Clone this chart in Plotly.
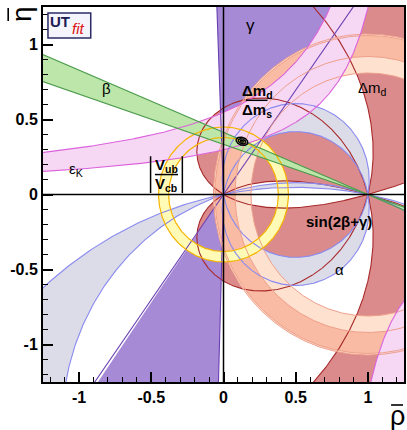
import numpy as np
import plotly.graph_objects as go

# ---------------- constraint values ----------------
AXIS_RANGE = [-1.25, 1.25]
TICK_VALUES = [-1, -0.5, 0, 0.5, 1]
TICK_LABELS = ["-1", "-0.5", "0", "0.5", "1"]

VUB_RADII = [0.38, 0.45]             # |Vub/Vcb| ring around (0,0)
DMS_LIGHT_RADII = [0.81, 1.07]       # Δmd/Δms ring around (1,0), 95%
DMS_DARK_RADII = [0.92, 1.06]        # Δmd/Δms ring around (1,0), 68%
EPSK_RHO0 = 1.315                    # εK hyperbola  η(ρ0-ρ)=k
EPSK_K = [0.392, 0.719]
EPSK_LOW_RHO0 = 0.72                 # εK lower-right branch
EPSK_LOW_K = 0.375
BETA_DEG = [18.5, 22.5]              # β wedge from (1,0)
GAMMA_UP_DEG = [54.3, 92.1]          # γ wedge from (0,0)
GAMMA_DOWN_DEG = [234.5, 268.4]
ALPHA_MAIN_DEG = [79.0, 100.0]       # apex angle band (both halves)
ALPHA_AMBIG_UP_DEG = [162.0, 169.0]  # ambiguous α solution, upper half
ALPHA_AMBIG_DOWN_DEG = [11.0, 18.0]  # ambiguous α solution, lower half
SIN2BG_MIN = 0.5                     # |sin(2β+γ)| lower bound
FIT_CENTER = [0.128, 0.355]
FIT_SEMI_AXES = [[0.042, 0.026], [0.027, 0.016], [0.012, 0.007]]
FIT_TILT_DEG = -18

# ---------------- colours ----------------
RED_FILL, RED_LINE = "#db8b8b", "#a8292b"
GREY_FILL, GREY_LINE = "#dcdce9", "#8a8af0"
PURPLE_FILL, PURPLE_LINE = "#a68ad6", "#6b3fb2"
PEACH_LIGHT, PEACH_DARK, PEACH_LINE = "#fee2cf", "#f9bba3", "#ee9f8b"
YELLOW_FILL, YELLOW_LINE = "#fffbb6", "#f5b400"
PINK_FILL, PINK_LINE = "#f6d8f4", "#dc62dc"
GREEN_FILL, GREEN_LINE = "#bde6aa", "#4b9b4b"

D = np.pi / 180.0


def circle(cx, cy, r, a0=0.0, a1=360.0, n=721):
    t = np.linspace(a0, a1, n) * D
    return cx + r * np.cos(t), cy + r * np.sin(t)


def annulus(cx, cy, r1, r2):
    xo, yo = circle(cx, cy, r2, 0, 360)
    xi, yi = circle(cx, cy, r1, 360, 0)
    return np.r_[xo, xi], np.r_[yo, yi]


def wedge(cx, cy, a0, a1, R=8.0):
    t = np.linspace(a0, a1, 200) * D
    return np.r_[cx, cx + R * np.cos(t), cx], np.r_[cy, cy + R * np.sin(t), cy]


def ray(cx, cy, a, R=8.0):
    return [cx, cx + R * np.cos(a * D)], [cy, cy + R * np.sin(a * D)]


def hyper_edge(k, rho0, etamax=6.0, n=600):
    eta = np.geomspace(k / (rho0 + 6.0), etamax, n)
    return rho0 - k / eta, eta


def theta_curve(theta, b0, b1, n=800):
    # points where 2β+γ = theta (law of sines parametrisation)
    b = np.linspace(b0, b1, n)
    g = theta - 2 * b
    r = np.sin(b * D) / np.sin((theta - b) * D)
    return r * np.cos(g * D), r * np.sin(g * D)


def alpha_arc(alpha, n=600):
    g = np.linspace(0, 180 - alpha, n)
    b = 180 - alpha - g
    r = np.sin(b * D) / np.sin(alpha * D)
    return r * np.cos(g * D), r * np.sin(g * D)


fig = go.Figure()


def fill(x, y, color):
    fig.add_trace(go.Scatter(x=x, y=y, mode="lines", fill="toself", fillcolor=color,
                             line=dict(width=0, color=color), hoverinfo="skip"))


def line(x, y, color, w=1.0):
    fig.add_trace(go.Scatter(x=x, y=y, mode="lines", line=dict(width=w, color=color),
                             hoverinfo="skip"))


# ---- sin(2β+γ) regions ----
t1 = np.arcsin(SIN2BG_MIN) / D
t2 = 180 - t1
sin_curves = []
xa1, ya1 = theta_curve(t2, 0, t2 / 2)
xa2, ya2 = theta_curve(t1, t1 / 2, 0)
xb1, yb1 = theta_curve(180 + t1, t1 + 1.0, (180 + t1) / 2)
xb2, yb2 = theta_curve(360 - t1, 180 - t1 / 2, 180 - t1 + 1.0)
xarc, yarc = circle(0, 0, 60, 20, 160, 200)
for s in (1, -1):
    fill(np.r_[xa1, xa2], s * np.r_[ya1, ya2], RED_FILL)
    fill(np.r_[xb1, xb2, xarc], s * np.r_[yb1, yb2, yarc], RED_FILL)
    sin_curves += [(xa1, s * ya1), (xa2, s * ya2), (xb1, s * yb1), (xb2, s * yb2)]

# ---- α regions ----
alpha_curves = []
for s, band in ((1, ALPHA_MAIN_DEG), (-1, ALPHA_MAIN_DEG),
                (1, ALPHA_AMBIG_UP_DEG), (-1, ALPHA_AMBIG_DOWN_DEG)):
    x1, y1 = alpha_arc(band[0])
    x2, y2 = alpha_arc(band[1])
    fill(np.r_[x1, x2[::-1]], s * np.r_[y1, y2[::-1]], GREY_FILL)
    alpha_curves += [(x1, s * y1), (x2, s * y2)]

# ---- γ wedges ----
for g in (GAMMA_UP_DEG, GAMMA_DOWN_DEG):
    x, y = wedge(0, 0, g[0], g[1])
    fill(x, y, PURPLE_FILL)

# ---- Δmd/Δms rings ----
x, y = annulus(1, 0, *DMS_LIGHT_RADII)
fill(x, y, PEACH_LIGHT)
x, y = annulus(1, 0, *DMS_DARK_RADII)
fill(x, y, PEACH_DARK)

# ---- |Vub/Vcb| ring ----
x, y = annulus(0, 0, *VUB_RADII)
fill(x, y, YELLOW_FILL)

# ---- εK band ----
xe1, ye1 = hyper_edge(EPSK_K[0], EPSK_RHO0)
xe2, ye2 = hyper_edge(EPSK_K[1], EPSK_RHO0)
fill(np.r_[xe2, xe1[::-1]], np.r_[ye2, ye1[::-1]], PINK_FILL)
# lower-right branch
eta_low = -np.geomspace(6.0, 0.05, 600)
xl = EPSK_LOW_RHO0 + EPSK_LOW_K / (-eta_low)
fill(np.r_[xl, 10.0, 10.0], np.r_[eta_low, -0.05, -10.0], PINK_FILL)

# ---- β wedge (both sides of (1,0)) ----
x, y = wedge(1, 0, 180 - BETA_DEG[1], 180 - BETA_DEG[0])
fill(x, y, GREEN_FILL)
x, y = wedge(1, 0, -BETA_DEG[1], -BETA_DEG[0])
fill(x, y, GREEN_FILL)

# ---------------- boundary lines on top ----------------
for cx, cy in sin_curves:
    line(cx, cy, RED_LINE, 1.1)
for cx, cy in alpha_curves:
    line(cx, cy, GREY_LINE, 1.1)
for g in GAMMA_UP_DEG + GAMMA_DOWN_DEG:
    x, y = ray(0, 0, g)
    line(x, y, PURPLE_LINE, 1.1)
for r in DMS_LIGHT_RADII + DMS_DARK_RADII:
    x, y = circle(1, 0, r)
    line(x, y, PEACH_LINE, 1.0)
for r in VUB_RADII:
    x, y = circle(0, 0, r)
    line(x, y, YELLOW_LINE, 1.2)
line(xe1, ye1, PINK_LINE, 1.1)
line(xe2, ye2, PINK_LINE, 1.1)
line(xl, eta_low, PINK_LINE, 1.1)
for b in BETA_DEG:
    x, y = ray(1, 0, 180 - b)
    line(x, y, GREEN_LINE, 1.1)
    x, y = ray(1, 0, -b)
    line(x, y, GREEN_LINE, 1.1)

# ---- fit contours ----
tt = np.linspace(0, 2 * np.pi, 200)
ct, st = np.cos(FIT_TILT_DEG * D), np.sin(FIT_TILT_DEG * D)
for a, b in FIT_SEMI_AXES:
    ex, ey = a * np.cos(tt), b * np.sin(tt)
    line(FIT_CENTER[0] + ex * ct - ey * st, FIT_CENTER[1] + ex * st + ey * ct, "black", 1.4)

# ---------------- layout ----------------
W, H = 407, 430
L, R, T, B = 43, 1, 7, 48
PW, PH = W - L - R, H - T - B


def px(xp):
    return (xp - L) / PW


def py(yp):
    return 1 - (yp - T) / PH


tickfont = dict(family="Liberation Sans, Arial", size=16, color="black", weight="bold")
axis_common = dict(range=AXIS_RANGE, showgrid=False, zeroline=False, showline=True,
                   mirror=True, linecolor="black", linewidth=2, ticks="inside",
                   ticklen=10, tickwidth=1.5, tickcolor="black", tickvals=TICK_VALUES,
                   ticktext=TICK_LABELS, tickfont=tickfont,
                   minor=dict(ticks="inside", ticklen=5, tickwidth=1, tickcolor="black",
                              dtick=0.1, tick0=0))
fig.update_xaxes(**axis_common)
fig.update_yaxes(**axis_common)

shapes = [
    dict(type="line", xref="x", yref="y", x0=0, x1=0, y0=-1.25, y1=1.25,
         line=dict(color="black", width=1.5), layer="above"),
    dict(type="line", xref="x", yref="y", x0=-1.25, x1=1.25, y0=0, y1=0,
         line=dict(color="black", width=1.5), layer="above"),
    # logo box
    dict(type="rect", xref="paper", yref="paper", x0=px(48), x1=px(91), y0=py(38), y1=py(13),
         fillcolor="#f4f4fc", line=dict(color="#2b2b66", width=1.5), layer="above"),
    # overline of rho
    dict(type="line", xref="paper", yref="paper", x0=px(393), x1=px(405), y0=py(405), y1=py(405),
         line=dict(color="black", width=1.6)),
    # overline of eta (rotated)
    dict(type="line", xref="paper", yref="paper", x0=px(8), x1=px(8), y0=py(8), y1=py(21),
         line=dict(color="black", width=1.6)),
    # |Vub/Vcb| bars and fraction line
    dict(type="line", xref="x", yref="y", x0=-0.505, x1=-0.505, y0=0.01, y1=0.255,
         line=dict(color="black", width=1.5), layer="above"),
    dict(type="line", xref="x", yref="y", x0=-0.285, x1=-0.285, y0=0.01, y1=0.255,
         line=dict(color="black", width=1.5), layer="above"),
    dict(type="line", xref="x", yref="y", x0=-0.475, x1=-0.315, y0=0.133, y1=0.133,
         line=dict(color="black", width=1.5), layer="above"),
    # Δmd/Δms fraction line
    dict(type="line", xref="x", yref="y", x0=0.155, x1=0.305, y0=0.628, y1=0.628,
         line=dict(color="black", width=1.5), layer="above"),
]

lab = dict(family="Liberation Sans, Arial", size=15, color="black")
labb = dict(family="Liberation Sans, Arial", size=15, color="black", weight="bold")
annotations = [
    dict(x=-0.81, y=0.71, text="β", font=lab),
    dict(x=-1.02, y=0.17, text="ε<sub>K</sub>", font=lab),
    dict(x=0.19, y=1.13, text="γ", font=dict(family="Liberation Sans, Arial", size=17, color="black")),
    dict(x=0.232, y=0.69, text="Δm<sub>d</sub>", font=labb),
    dict(x=0.232, y=0.56, text="Δm<sub>s</sub>", font=labb),
    dict(x=1.03, y=0.71, text="Δm<sub>d</sub>", font=lab),
    dict(x=-0.395, y=0.195, text="V<sub>ub</sub>", font=labb),
    dict(x=-0.395, y=0.065, text="V<sub>cb</sub>", font=labb),
    dict(x=0.8, y=-0.18, text="sin(2β+γ)", font=labb),
    dict(x=0.8, y=-0.5, text="α", font=lab),
]
for a in annotations:
    a.update(xref="x", yref="y", showarrow=False, xanchor="center", yanchor="middle")
annotations += [
    dict(xref="paper", yref="paper", x=px(399), y=py(416), text="ρ",
         font=dict(family="Liberation Sans, Arial", size=27, color="black")),
    dict(xref="paper", yref="paper", x=px(21), y=py(14), text="η", textangle=-90,
         font=dict(family="Liberation Sans, Arial", size=28, color="black")),
    dict(xref="paper", yref="paper", x=px(60), y=py(21), text="<b>UT</b>",
         font=dict(family="Liberation Sans, Arial", size=15, color="#1b1b55")),
    dict(xref="paper", yref="paper", x=px(79), y=py(29), text="<i>fit</i>",
         font=dict(family="Liberation Sans, Arial", size=15, color="#dd1111")),
]
for a in annotations[-4:]:
    a.update(showarrow=False, xanchor="center", yanchor="middle")

fig.update_layout(width=W, height=H, margin=dict(l=L, r=R, t=T, b=B),
                  plot_bgcolor="white", paper_bgcolor="white", showlegend=False,
                  shapes=shapes, annotations=annotations)

fig.write_html("out.html", config={"displayModeBar": False},
               post_script="document.body.style.margin='0px';")
